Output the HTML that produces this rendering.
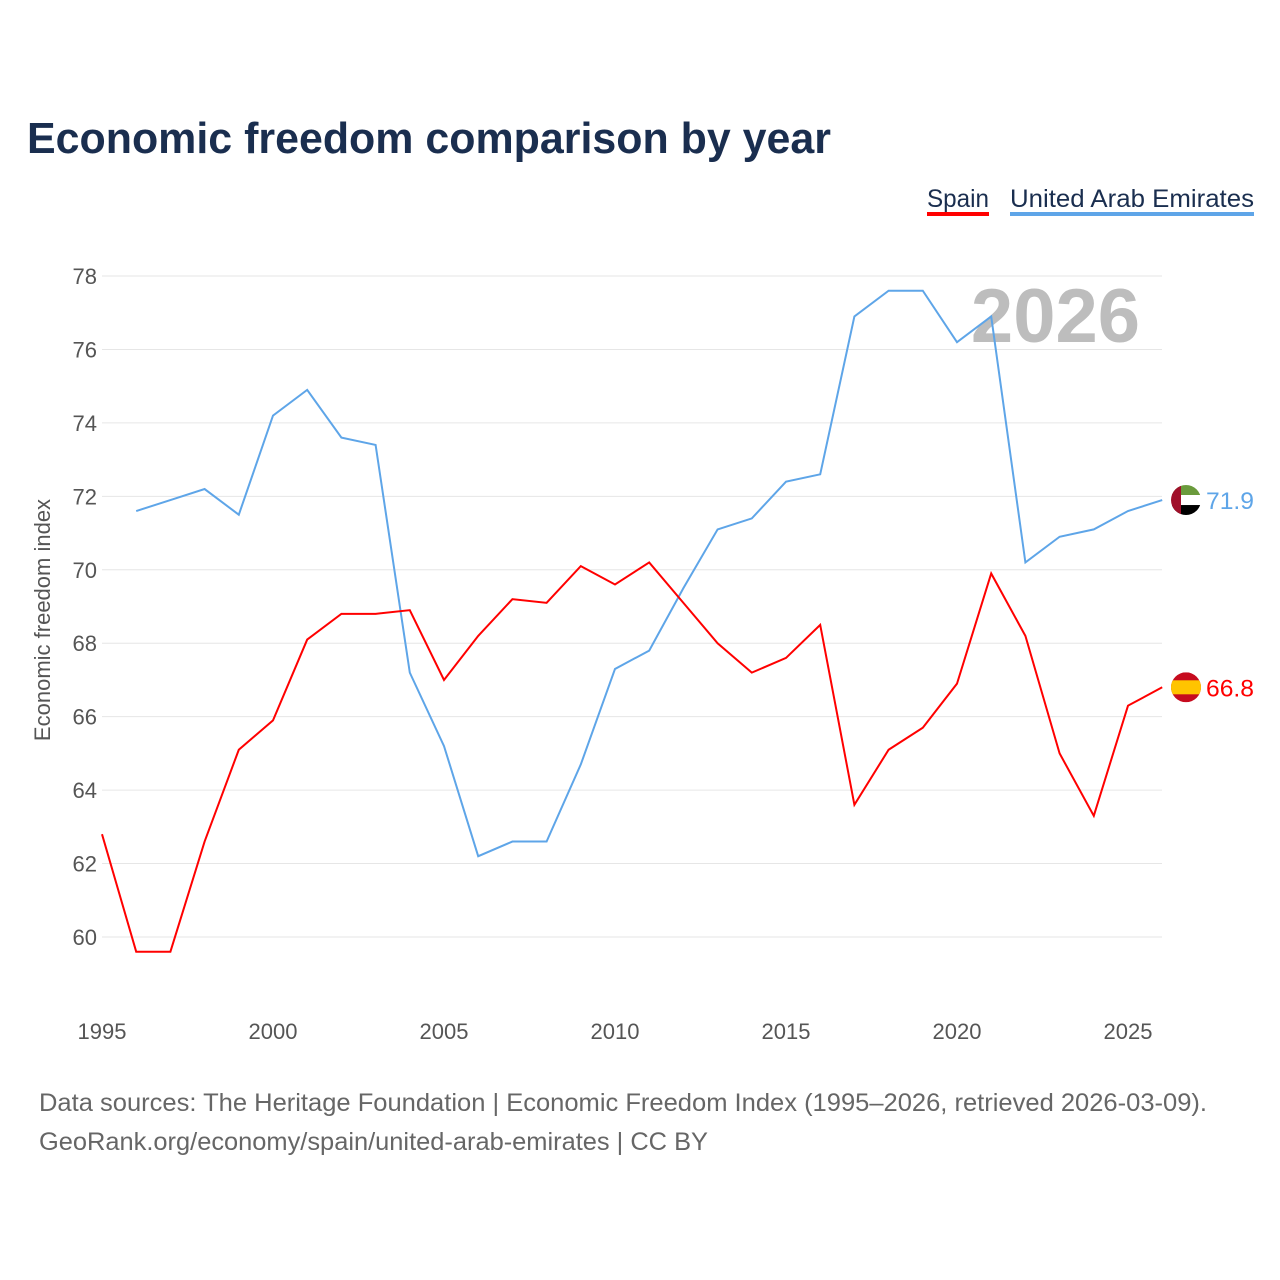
<!DOCTYPE html>
<html><head><meta charset="utf-8">
<style>
body{margin:0;background:#fff;font-family:"Liberation Sans",sans-serif;}
#wrap{position:relative;width:1280px;height:1280px;overflow:hidden;}
</style></head>
<body>
<div id="wrap">
<svg id="chart" width="1280" height="1280"></svg>
</div>
<script>
const years=[1995,1996,1997,1998,1999,2000,2001,2002,2003,2004,2005,2006,2007,2008,2009,2010,2011,2012,2013,2014,2015,2016,2017,2018,2019,2020,2021,2022,2023,2024,2025,2026];
const spain=[62.8,59.6,59.6,62.6,65.1,65.9,68.1,68.8,68.8,68.9,67.0,68.2,69.2,69.1,70.1,69.6,70.2,69.1,68.0,67.2,67.6,68.5,63.6,65.1,65.7,66.9,69.9,68.2,65.0,63.3,66.3,66.8];
const uae=[null,71.6,71.9,72.2,71.5,74.2,74.9,73.6,73.4,67.2,65.2,62.2,62.6,62.6,64.7,67.3,67.8,69.5,71.1,71.4,72.4,72.6,76.9,77.6,77.6,76.2,76.9,70.2,70.9,71.1,71.6,71.9];
const yTicks=[60,62,64,66,68,70,72,74,76,78];
const xTicks=[1995,2000,2005,2010,2015,2020,2025];

const svg=document.getElementById('chart');
const NS='http://www.w3.org/2000/svg';
const x=v=>102+(v-1995)*34.2;
const y=v=>937-(v-60)*36.72;
function mk(tag,attrs,text){const e=document.createElementNS(NS,tag);for(const k in attrs)e.setAttribute(k,attrs[k]);if(text!==undefined)e.textContent=text;svg.appendChild(e);return e;}

let t=mk('text',{x:27,y:153,'font-size':44,'font-weight':'bold',fill:'#1a2e4f',textLength:804,lengthAdjust:'spacingAndGlyphs'},'Economic freedom comparison by year');



t=mk('text',{x:927,y:207,'font-size':25,fill:'#1a2e4f',textLength:62,lengthAdjust:'spacingAndGlyphs'},'Spain');


let r=mk('rect',{x:927,y:212,width:62,height:4,fill:'#ff0000'});


t=mk('text',{x:1010,y:207,'font-size':25,fill:'#1a2e4f',textLength:244,lengthAdjust:'spacingAndGlyphs'},'United Arab Emirates');


r=mk('rect',{x:1010,y:212,width:244,height:4,fill:'#5ea5e8'});



yTicks.forEach(v=>{
  const l=mk('line',{x1:102,x2:1162,y1:y(v),y2:y(v),stroke:'#e6e6e6','stroke-width':1});
  
  
  const tx=mk('text',{x:97,y:y(v)+8,'font-size':22,fill:'#555','text-anchor':'end'},v);
  
  
});
xTicks.forEach(v=>{
  const tx=mk('text',{x:x(v),y:1039,'font-size':22,fill:'#555','text-anchor':'middle'},v);
  
  
});
t=mk('text',{x:0,y:0,'font-size':22,fill:'#555','text-anchor':'middle',transform:'translate(50,620) rotate(-90)'},'Economic freedom index');



t=mk('text',{x:1140,y:342,'font-size':76,'font-weight':'bold',fill:'#bdbdbd','text-anchor':'end'},'2026');



function path(vals){let d='';vals.forEach((v,i)=>{if(v==null)return;d+=(d?'L':'M')+x(years[i])+','+y(v);});return d;}
let p=mk('path',{d:path(uae),fill:'none',stroke:'#5ea5e8','stroke-width':2});


p=mk('path',{d:path(spain),fill:'none',stroke:'#ff0000','stroke-width':2});



const ul=uae[uae.length-1], sl=spain[spain.length-1];
const uy=y(ul), sy=y(sl);
let g=document.createElementNS(NS,'g');svg.appendChild(g);


g.innerHTML=`<clipPath id="cu"><circle cx="1186" cy="${uy}" r="15"/></clipPath><g clip-path="url(#cu)"><rect x="1171" y="${uy-15}" width="30" height="10" fill="#6a9a3c"/><rect x="1171" y="${uy-5}" width="30" height="10" fill="#fff"/><rect x="1171" y="${uy+5}" width="30" height="10" fill="#000"/><rect x="1171" y="${uy-15}" width="10" height="30" fill="#a0102a"/></g>`;
g=document.createElementNS(NS,'g');svg.appendChild(g);


g.innerHTML=`<clipPath id="cs"><circle cx="1186" cy="${sy}" r="15"/></clipPath><g clip-path="url(#cs)"><rect x="1171" y="${sy-15}" width="30" height="30" fill="#c60b1e"/><rect x="1171" y="${sy-7}" width="30" height="14" fill="#ffc400"/></g>`;
t=mk('text',{x:1206,y:uy+9,'font-size':24,fill:'#5ea5e8',textLength:48,lengthAdjust:'spacingAndGlyphs'},ul.toFixed(1));


t=mk('text',{x:1206,y:sy+9,'font-size':24,fill:'#ff0000',textLength:48,lengthAdjust:'spacingAndGlyphs'},sl.toFixed(1));



t=mk('text',{x:39,y:1111,'font-size':25,fill:'#666',textLength:1168,lengthAdjust:'spacingAndGlyphs'},'Data sources: The Heritage Foundation | Economic Freedom Index (1995–2026, retrieved 2026-03-09).');


t=mk('text',{x:39,y:1150,'font-size':25,fill:'#666',textLength:669,lengthAdjust:'spacingAndGlyphs'},'GeoRank.org/economy/spain/united-arab-emirates | CC BY');


</script>
</body></html>
